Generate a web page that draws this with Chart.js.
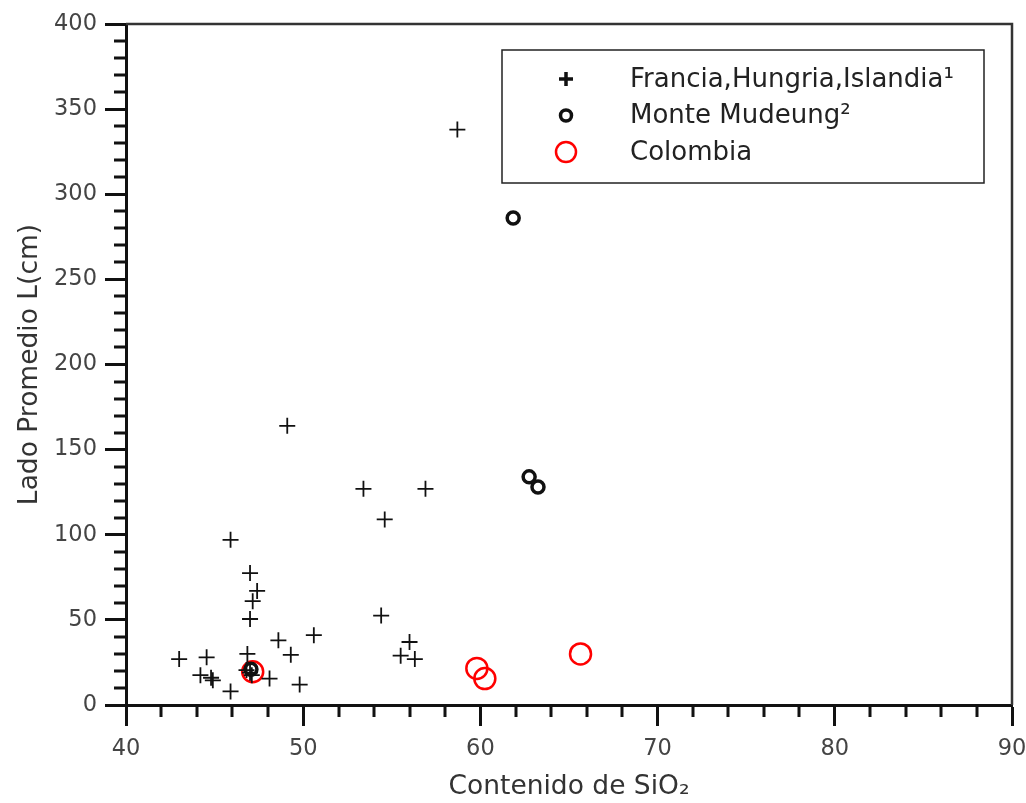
<!DOCTYPE html>
<html lang="es">
<head>
<meta charset="UTF-8">
<title>Lado promedio vs SiO2</title>
<script src="https://cdn.jsdelivr.net/npm/chart.js@4.4.0/dist/chart.umd.min.js"></script>
<style>
  body { margin: 0; background: #fff; }
</style>
</head>
<body>
<canvas id="chart" width="1026" height="803"></canvas>

<script>
    // Francia, Hungria, Islandia (cruces)
    const fhiSiO2 = [58.7, 49.1, 53.4, 56.9, 54.6, 45.9, 47.0, 47.4, 47.15, 47.0, 54.4, 50.6, 48.6, 56.0,
                     43.0, 44.55, 46.85, 49.3, 55.5, 56.3, 44.2, 44.8, 44.9, 45.9, 48.1, 49.8, 46.8, 47.0, 47.1];
    const fhiLado = [338, 164, 127, 127, 109, 97, 77.5, 67, 61, 50.5, 52.5, 41, 38, 37,
                     27, 28, 30, 29.5, 29, 27, 17.5, 16, 14.5, 8, 15.5, 12, 20.5, 19, 17.5];

    // Monte Mudeung
    const mudeungSiO2 = [61.85, 62.75, 63.25, 47.05];
    const mudeungLado = [286, 134, 128, 21];

    // Colombia
    const colSiO2 = [47.15, 59.8, 60.25, 65.65];
    const colLado = [19.5, 21.5, 15.5, 30];

    const seriesNames = ['Francia,Hungria,Islandia\u00b9', 'Monte Mudeung\u00b2', 'Colombia'];
    const xTitle = 'Contenido de SiO\u2082';
    const yTitle = 'Lado Promedio L(cm)';
    const xMin = 40, xMax = 90, xStep = 10, xMinor = 2;
    const yMin = 0, yMax = 400, yStep = 50, yMinor = 10;

    function pts(xs, ys) {
        return xs.map((v, i) => ({x: v, y: ys[i]}));
    }

    // minor ticks + top/right frame
    const frame = {
        id: 'frame',
        afterDraw(chart) {
            const {ctx, chartArea: a, scales} = chart;
            ctx.save();
            ctx.strokeStyle = '#111';
            ctx.lineWidth = 3;
            ctx.beginPath();
            for (let v = xMin; v <= xMax; v += xMinor) {
                if (v % xStep === 0) continue;
                const px = Math.round(scales.x.getPixelForValue(v));
                ctx.moveTo(px, a.bottom);
                ctx.lineTo(px, a.bottom + 12);
            }
            for (let v = yMin; v <= yMax; v += yMinor) {
                if (v % yStep === 0) continue;
                const py = Math.round(scales.y.getPixelForValue(v));
                ctx.moveTo(a.left, py);
                ctx.lineTo(a.left - 12, py);
            }
            ctx.stroke();

            ctx.strokeStyle = '#333';
            ctx.lineWidth = 2.5;
            ctx.beginPath();
            ctx.moveTo(a.left, a.top);
            ctx.lineTo(a.right, a.top);
            ctx.lineTo(a.right, a.bottom);
            ctx.stroke();
            ctx.restore();
        }
    };

    // legend box inside the plot
    const boxLegend = {
        id: 'boxLegend',
        afterDraw(chart) {
            const {ctx, chartArea: a} = chart;
            const left = a.left + 376, top = a.top + 26, w = 482, h = 133;
            ctx.save();
            ctx.fillStyle = '#fff';
            ctx.fillRect(left, top, w, h);
            ctx.strokeStyle = '#222';
            ctx.lineWidth = 1.5;
            ctx.strokeRect(left, top, w, h);

            const marks = [
                {pointStyle: 'cross', radius: 7, borderWidth: 3.5, color: '#111', fill: null},
                {pointStyle: 'circle', radius: 5.5, borderWidth: 3.5, color: '#111', fill: '#fff'},
                {pointStyle: 'circle', radius: 10, borderWidth: 2.5, color: '#ff0000', fill: null}
            ];
            ctx.font = '26px "DejaVu Sans"';
            ctx.textBaseline = 'middle';
            ctx.textAlign = 'left';
            seriesNames.forEach((name, i) => {
                const cy = top + 29 + i * 36.5;
                const m = marks[i];
                ctx.strokeStyle = m.color;
                ctx.fillStyle = m.fill || 'rgba(0,0,0,0)';
                ctx.lineWidth = m.borderWidth;
                Chart.helpers.drawPoint(ctx, {pointStyle: m.pointStyle, radius: m.radius, borderWidth: m.borderWidth, rotation: 0}, left + 64, cy);
                ctx.fillStyle = '#222';
                ctx.fillText(name, left + 128, cy + 1);
            });
            ctx.restore();
        }
    };

    const tickFont = {family: 'DejaVu Sans', size: 22.5};
    const titleFont = {family: 'DejaVu Sans', size: 26.5};

    new Chart(document.getElementById('chart'), {
        type: 'scatter',
        data: {
            datasets: [
                {
                    label: seriesNames[0],
                    data: pts(fhiSiO2, fhiLado),
                    pointStyle: 'cross',
                    pointRadius: 8,
                    borderWidth: 1.8,
                    borderColor: '#111',
                    backgroundColor: '#111'
                },
                {
                    label: seriesNames[1],
                    data: pts(mudeungSiO2, mudeungLado),
                    pointStyle: 'circle',
                    pointRadius: 6,
                    borderWidth: 3.5,
                    borderColor: '#111',
                    backgroundColor: '#fff'
                },
                {
                    label: seriesNames[2],
                    data: pts(colSiO2, colLado),
                    pointStyle: 'circle',
                    pointRadius: 10.5,
                    borderWidth: 2.5,
                    borderColor: '#ff0000',
                    backgroundColor: 'rgba(0,0,0,0)'
                }
            ]
        },
        options: {
            responsive: false,
            animation: false,
            layout: {padding: {top: 24, right: 14, left: 0, bottom: 0}},
            plugins: {
                legend: {display: false},
                tooltip: {enabled: false}
            },
            scales: {
                x: {
                    type: 'linear',
                    min: xMin,
                    max: xMax,
                    afterFit: s => { s.height = 98; s.paddingRight = 0; s.paddingLeft = 0; },
                    ticks: {stepSize: xStep, font: tickFont, color: '#444', padding: 10},
                    grid: {drawOnChartArea: false, tickLength: 21, tickWidth: 3, tickColor: '#111'},
                    border: {display: true, width: 3, color: '#111'},
                    title: {display: true, text: xTitle, font: titleFont, color: '#333', padding: {top: 0, bottom: 0}}
                },
                y: {
                    type: 'linear',
                    min: yMin,
                    max: yMax,
                    afterFit: s => { s.width = 126; s.paddingTop = 0; s.paddingBottom = 0; },
                    ticks: {stepSize: yStep, font: tickFont, color: '#444', padding: 8},
                    grid: {drawOnChartArea: false, tickLength: 21, tickWidth: 3, tickColor: '#111'},
                    border: {display: true, width: 3, color: '#111'},
                    title: {display: true, text: yTitle, font: titleFont, color: '#333', padding: {top: 14, bottom: 0}}
                }
            }
        },
        plugins: [frame, boxLegend]
    });
</script>
</body>
</html>
